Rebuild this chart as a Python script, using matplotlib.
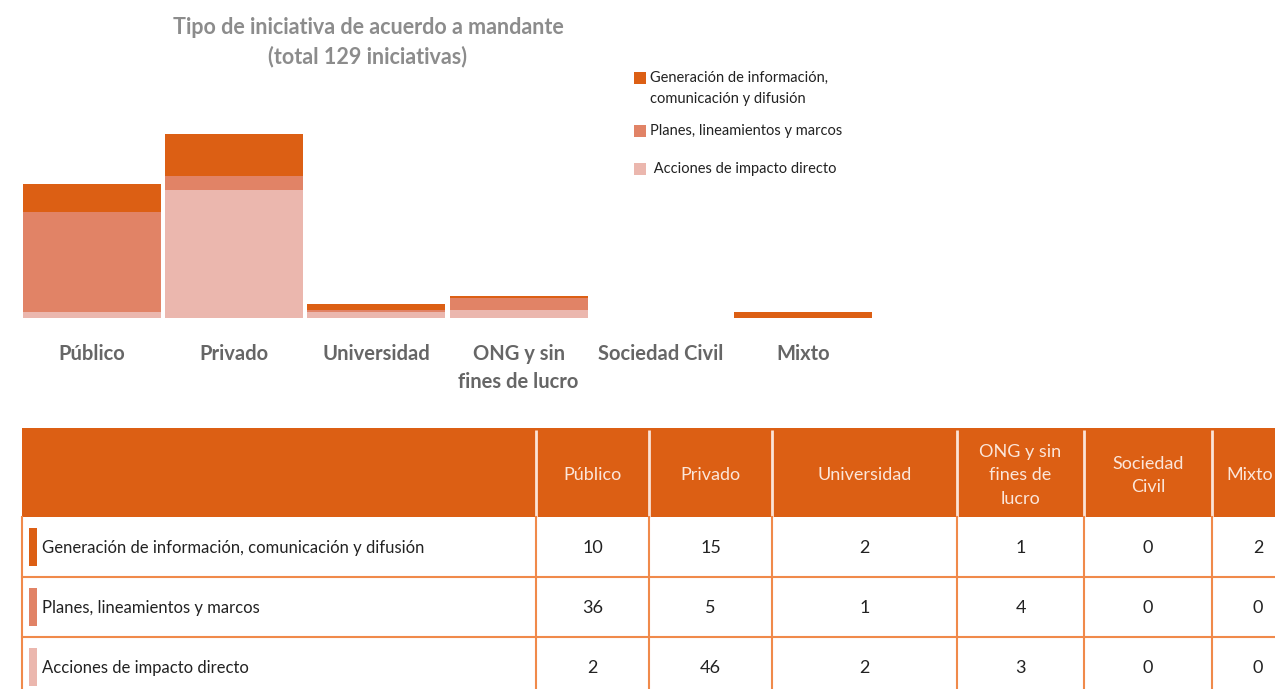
import matplotlib
matplotlib.use("Agg")
import matplotlib.pyplot as plt
from matplotlib.patches import Rectangle

# data
categories = ["Público", "Privado", "Universidad", "ONG y sin fines de lucro", "Sociedad Civil", "Mixto"]
tick_labels = ["Público", "Privado", "Universidad", "ONG y sin\nfines de lucro", "Sociedad Civil", "Mixto"]
header_labels = ["Público", "Privado", "Universidad", "ONG y sin\nfines de\nlucro", "Sociedad\nCivil", "Mixto"]
series_names = ["Generación de información, comunicación y difusión",
                "Planes, lineamientos y marcos",
                "Acciones de impacto directo"]
legend_labels = ["Generación de información,\ncomunicación y difusión",
                 "Planes, lineamientos y marcos",
                 " Acciones de impacto directo"]
generacion = [10, 15, 2, 1, 0, 2]
planes = [36, 5, 1, 4, 0, 0]
acciones = [2, 46, 2, 3, 0, 0]

colors = ["#DC5F14", "#E18366", "#EBB7AE"]
W, H = 1275, 689
FONT = ["Lato", "DejaVu Sans"]
plt.rcParams["font.family"] = FONT

fig = plt.figure(figsize=(W / 100, H / 100), dpi=100)

# bar chart, placed in pixel terms
x0, x1 = 20.5, 874.5
ybase, ytop = 318, 134
ax = fig.add_axes([x0 / W, (H - ybase) / H, (x1 - x0) / W, (ybase - ytop) / H])
xs = range(len(categories))
bottom = [0] * len(categories)
# stacked from bottom: acciones, planes, generacion
for vals, c in [(acciones, colors[2]), (planes, colors[1]), (generacion, colors[0])]:
    ax.bar(xs, vals, width=0.97, bottom=bottom, color=c, linewidth=0)
    bottom = [b + v for b, v in zip(bottom, vals)]
ax.set_xlim(-0.5, len(categories) - 0.5)
ax.set_ylim(0, 66)
ax.set_yticks([])
ax.set_xticks(list(xs))
ax.set_xticklabels(tick_labels, fontsize=14.5, fontweight="bold", color="#666666",
                   linespacing=1.5, va="top")
ax.tick_params(axis="x", length=0, pad=19)
for s in ax.spines.values():
    s.set_visible(False)

# overlay axes in pixel coordinates for title, legend, table
ov = fig.add_axes([0, 0, 1, 1])
ov.set_xlim(0, W)
ov.set_ylim(H, 0)
ov.axis("off")

ov.text(368, 28, "Tipo de iniciativa de acuerdo a mandante", ha="center", va="center",
        fontsize=15.5, fontweight="bold", color="#8C8C8C")
ov.text(368, 57, "(total 129 iniciativas)", ha="center", va="center",
        fontsize=15.5, fontweight="bold", color="#8C8C8C")

# legend
leg_y = [78, 131, 169]
for lbl, c, y in zip(legend_labels, colors, leg_y):
    ov.add_patch(Rectangle((634, y - 6), 12, 12, color=c, lw=0))
    ov.text(650, y - 7, lbl, ha="left", va="top", fontsize=10.5, color="#222222",
            linespacing=1.6)

# table
col_edges = [22, 536, 649, 772, 957, 1084, 1212, 1304]
head_top, head_bot = 428, 517
row_edges = [517, 577, 637, 697]
line_c = "#F08A4B"

ov.add_patch(Rectangle((col_edges[0], head_top), col_edges[-1] - col_edges[0],
                       head_bot - head_top, color=colors[0], lw=0))
for xe in col_edges[1:-1]:
    ov.plot([xe, xe], [head_top + 2, head_bot], color="#FBE3D6", lw=2, solid_capstyle="butt")
for i, lbl in enumerate(header_labels):
    cx = (col_edges[i + 1] + col_edges[i + 2]) / 2
    if i == len(header_labels) - 1:
        cx = 1250
    ov.text(cx, (head_top + head_bot) / 2 + 3, lbl, ha="center", va="center",
            fontsize=13, color="#FBE6DA", linespacing=1.55)

for xe in col_edges[:-1]:
    ov.plot([xe, xe], [head_bot, row_edges[-1]], color=line_c, lw=1.5)
for ye in row_edges[1:-1]:
    ov.plot([col_edges[0], col_edges[-1]], [ye, ye], color=line_c, lw=1.5)

table_rows = [generacion, planes, acciones]
for r, (name, vals, c) in enumerate(zip(series_names, table_rows, colors)):
    yc = (row_edges[r] + row_edges[r + 1]) / 2
    if r == 2:
        yc = 667
    ov.add_patch(Rectangle((29, yc - 19), 8, 38, color=c, lw=0))
    ov.text(42, yc + 1, name, ha="left", va="center", fontsize=12, color="#222222")
    for i, v in enumerate(vals):
        cx = (col_edges[i + 1] + col_edges[i + 2]) / 2
        if i == len(vals) - 1:
            cx = 1258
        ov.text(cx, yc + 1, str(v), ha="center", va="center", fontsize=13, color="#222222")

fig.savefig("out.png", dpi=100)
